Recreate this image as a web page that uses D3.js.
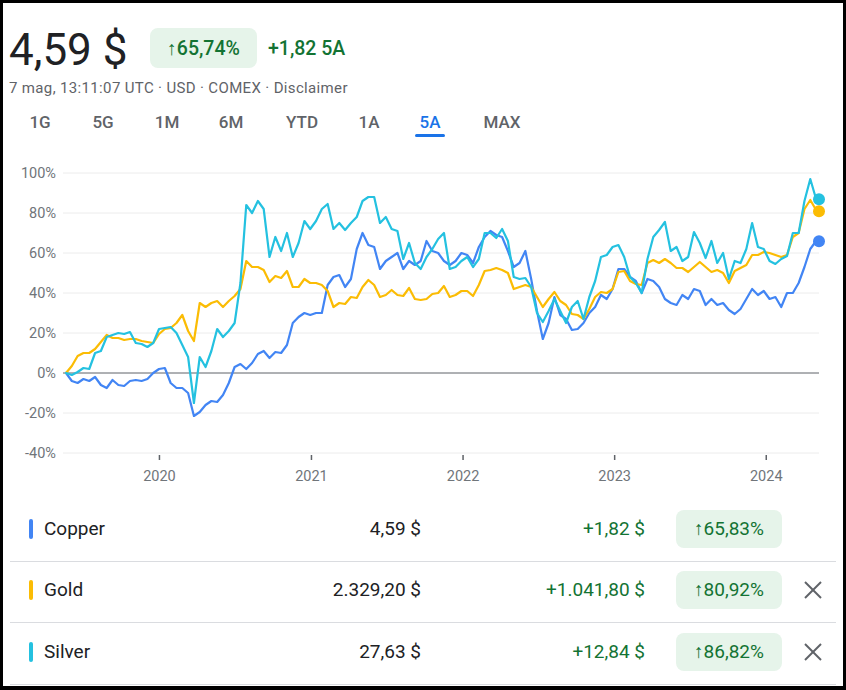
<!DOCTYPE html>
<html><head><meta charset="utf-8">
<script src="https://cdn.jsdelivr.net/npm/d3@7"></script>
<style>
html,body{margin:0;padding:0;background:#000;}
svg{display:block;font-family:Roboto,"Noto Sans",Arial,sans-serif;}
</style></head>
<body>
<svg id="c" width="846" height="690"></svg>
<script>
// ---------- DATA ----------
const startDate = "2019-05-21";
const stepDays = 14;
const endDate = "2024-05-07";
const copper = [0,-4,-5,-3,-4,-2,-6,-7.5,-3.5,-6,-6.5,-4,-3.5,-4,-3,0,2,2.5,-5,-7.5,-7.5,-10,-21.5,-19.5,-16,-14,-14.5,-11,-5,3,4.5,2,5,9.5,11,7.5,10.5,10,14,25,28,30,29,30,30,44,48,49,43,47,62,70,64,63,52,56,58,60,52,56,54,56,66,61,60,56,54,56,60,59,55,63,68,71,69,68,61,53,55,61,47,31,17,25,38,29,27,21.5,22,25,30,33,39,37,42,52,52,48,46,40,47,46,43,37,35,34,39,37,42,41,34,37,34,35,31.5,29.5,32,37,42,39,41,37,38,33,40,40,45,53,62,66,65.83];
const gold = [0,3.5,8.5,10,10,12,15.5,19,17.5,17.5,16.5,17,17,16,15.5,15,19.5,22,22.5,25,29,21,16,35,33,35,36,33,36,38.5,42,56,53,53,51.5,45.5,48.5,47.5,51,43,43,47,45,45,44,41,33,35,34.5,38,37.5,43,46.5,44,38,39,41.5,39,38.5,42.5,37,36.5,37,39.5,40,43.5,38,39,41,41,38.5,44,51,51.5,52.5,51.5,50,42,43,44,43,38,33,37,40.5,36,34,29.5,29,27,32,38,40.5,40,42,50.5,51,46,44.5,44,55,56.5,55,57,55,52.5,52.5,50.5,53,55.5,53,50.5,51.5,50,45,51,52.5,54,59,59,60.5,60,59,58,59,68,70,82,86.5,81.5,80.92];
const silver = [0,-1,0.5,2.5,2,10,11,18,19,20,19.5,20.5,15,14.5,13,15,22,22.5,23,20,14,8,-15,8,3,11,22,18,21,25,45,84,80,86,82,58,68,61,70,58,65,76,72,76,82,84.5,72,75,71.5,75,78,86,88,88,75,78,72,71,57,65,55,52,58,62,67,70,52,53,56,58,53,57,70,70,67.5,72,66,48,47,47.5,43,30,25.5,31,37,31,25,33,36,27,38,46,58,59,63,64,58,48,45,40,57,68,71.5,75.5,61,63,56,58,70.5,65,57.5,66,55,60,47,56,55,62,75,63,62,56,54.5,57,58.5,70,70,86,97,87,86.82];
const seriesNames = ["Copper","Gold","Silver"];
const seriesColors = ["#4285f4","#fbbc04","#24c1e0"];
const prices = ["4,59 $","2.329,20 $","27,63 $"];
const changes = ["+1,82 $","+1.041,80 $","+12,84 $"];
const pctChanges = ["65,83%","80,92%","86,82%"];
const removable = [false,true,true];
const yTicks = [-40,-20,0,20,40,60,80,100];
const xTickLabels = ["2020","2021","2022","2023","2024"];
const tabs = ["1G","5G","1M","6M","YTD","1A","5A","MAX"];
const activeTab = "5A";
const headPrice = "4,59 $";
const headPct = "65,74%";
const headChange = "+1,82 5A";
const subtitle = "7 mag, 13:11:07 UTC · USD · COMEX · Disclaimer";

// ---------- BUILD ----------
const parse = d3.utcParse("%Y-%m-%d");
const dates = copper.map((_, i) => i === copper.length - 1 ? parse(endDate) : d3.utcDay.offset(parse(startDate), i * stepDays));
const svg = d3.select("#c");
svg.append("rect").attr("x",3).attr("y",3).attr("width",840).attr("height",683).attr("fill","#fff");

// header
svg.append("text").attr("x",9).attr("y",65).attr("font-size",44).attr("fill","#202124").text(headPrice);
svg.append("rect").attr("x",150).attr("y",28).attr("width",107).attr("height",40).attr("rx",8).attr("fill","#e6f4ea");
svg.append("text").attr("x",203.5).attr("y",55).attr("text-anchor","middle").attr("font-size",19.5).attr("font-weight",500).attr("fill","#137333").text("↑" + headPct);
svg.append("text").attr("x",268).attr("y",55).attr("font-size",19.5).attr("font-weight",500).attr("fill","#137333").text(headChange);
svg.append("text").attr("x",9).attr("y",93).attr("font-size",15).attr("letter-spacing",0.35).attr("fill","#5f6368").text(subtitle);

const tabX = [40,103,167,231,302,369,430,502];
tabs.forEach((t, i) => {
  svg.append("text").attr("x",tabX[i]).attr("y",128).attr("text-anchor","middle").attr("font-size",17).attr("font-weight",500)
    .attr("fill", t === activeTab ? "#1a73e8" : "#5f6368").text(t);
  if (t === activeTab) svg.append("rect").attr("x",tabX[i]-15).attr("y",134).attr("width",30).attr("height",3).attr("rx",1.5).attr("fill","#1a73e8");
});

// chart
const x = d3.scaleUtc().domain([dates[0], dates[dates.length-1]]).range([66, 819]);
const y = d3.scaleLinear().domain([-40, 100]).range([453, 173]);

const grid = svg.append("g");
yTicks.forEach(t => {
  grid.append("line").attr("x1",63).attr("x2",819).attr("y1",y(t)).attr("y2",y(t))
    .attr("stroke", t === 0 ? "#5f6368" : "#ececec").attr("stroke-width",1);
  grid.append("text").attr("x",56).attr("y",y(t)+5).attr("text-anchor","end").attr("font-size",14.5).attr("fill","#70757a").text(t + "%");
});
const yearTicks = xTickLabels.map(l => parse(l + "-01-01"));
yearTicks.forEach((d, i) => {
  grid.append("rect").attr("x",x(d)-0.75).attr("y",455).attr("width",1.5).attr("height",5).attr("fill","#5f6368");
  grid.append("text").attr("x",x(d)).attr("y",481).attr("text-anchor","middle").attr("font-size",14.5).attr("fill","#70757a").text(xTickLabels[i]);
});

const line = d3.line().x((d, i) => x(dates[i])).y(d => y(d)).curve(d3.curveLinear);
[copper, gold, silver].forEach((s, k) => {
  svg.append("path").datum(s).attr("d", line).attr("fill","none").attr("stroke",seriesColors[k])
    .attr("stroke-width",2.2).attr("stroke-linejoin","round").attr("stroke-linecap","round");
});
[copper, gold, silver].forEach((s, k) => {
  svg.append("circle").attr("cx", x(dates[s.length-1])).attr("cy", y(s[s.length-1])).attr("r",6).attr("fill",seriesColors[k]);
});

// table
const rowY = [529, 590, 652];
seriesNames.forEach((n, i) => {
  const cy = rowY[i];
  svg.append("rect").attr("x",29).attr("y",cy-10).attr("width",4).attr("height",20).attr("rx",2).attr("fill",seriesColors[i]);
  svg.append("text").attr("x",44).attr("y",cy+6).attr("font-size",19).attr("fill","#202124").text(n);
  svg.append("text").attr("x",421).attr("y",cy+6).attr("text-anchor","end").attr("font-size",19).attr("fill","#202124").text(prices[i]);
  svg.append("text").attr("x",645).attr("y",cy+6).attr("text-anchor","end").attr("font-size",19).attr("fill","#137333").text(changes[i]);
  svg.append("rect").attr("x",676).attr("y",cy-19).attr("width",106).attr("height",38).attr("rx",8).attr("fill","#e6f4ea");
  svg.append("text").attr("x",729).attr("y",cy+6).attr("text-anchor","middle").attr("font-size",19).attr("fill","#137333").text("↑" + pctChanges[i]);
  if (removable[i]) {
    const g = svg.append("g").attr("transform",`translate(813,${cy})`).attr("stroke","#5f6368").attr("stroke-width",2);
    g.append("line").attr("x1",-8).attr("y1",-8).attr("x2",8).attr("y2",8);
    g.append("line").attr("x1",-8).attr("y1",8).attr("x2",8).attr("y2",-8);
  }
  svg.append("line").attr("x1",10).attr("x2",836).attr("y1",cy+32.5).attr("y2",cy+32.5).attr("stroke","#dadce0");
});
</script>
</body></html>
